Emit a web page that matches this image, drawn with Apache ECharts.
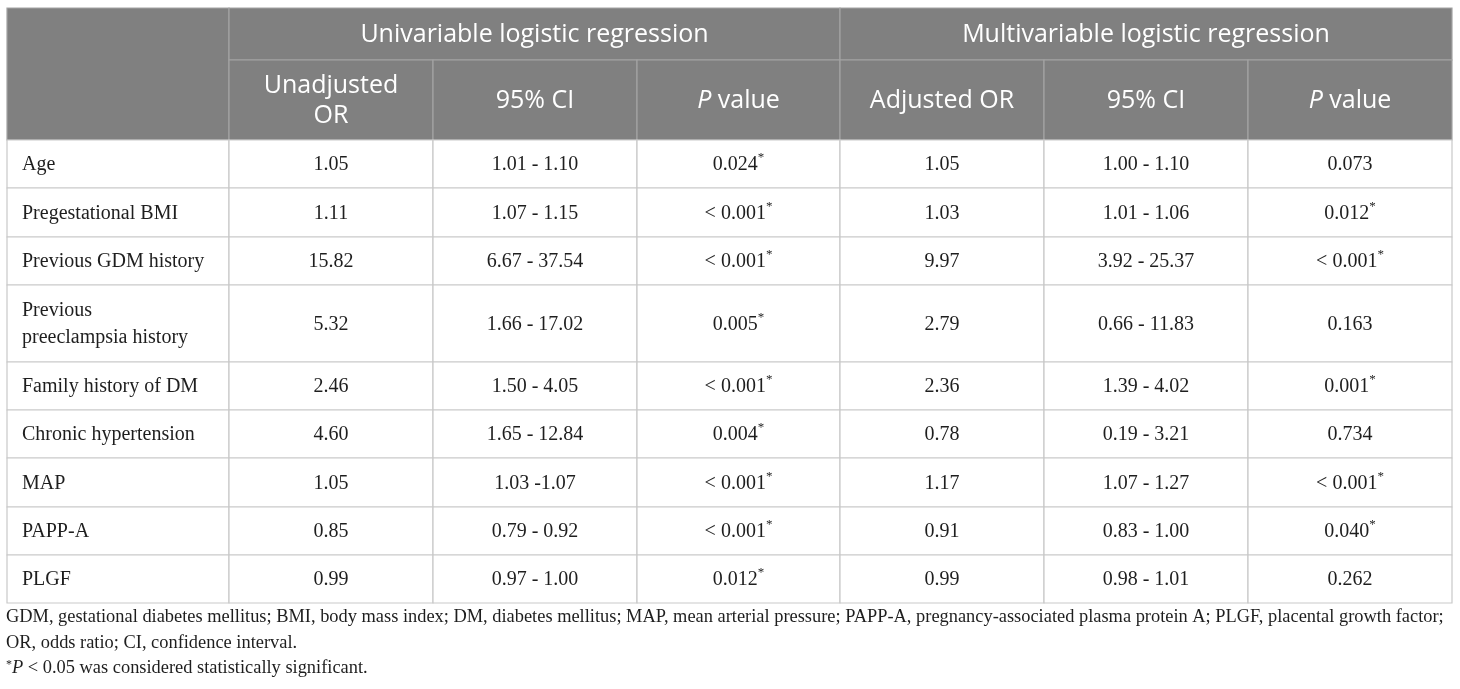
<!DOCTYPE html>
<html>
<head>
<meta charset="utf-8">
<script src="https://cdn.jsdelivr.net/npm/echarts@6/dist/echarts.min.js"></script>
<style>
  html, body { margin: 0; padding: 0; background: #fff; }
  #chart { width: 1460px; height: 689px; }
</style>
</head>
<body>
<div id="chart"></div>
<script>
// table content
const groupHeaders = ['Univariable logistic regression', 'Multivariable logistic regression'];
const columnHeaders = ['Unadjusted\nOR', '95% CI', '{i|P} value', 'Adjusted OR', '95% CI', '{i|P} value'];
const variables = [
  'Age', 'Pregestational BMI', 'Previous GDM history', 'Previous\npreeclampsia history',
  'Family history of DM', 'Chronic hypertension', 'MAP', 'PAPP-A', 'PLGF'
];
const unadjustedOR = ['1.05', '1.11', '15.82', '5.32', '2.46', '4.60', '1.05', '0.85', '0.99'];
const unadjustedCI = ['1.01 - 1.10', '1.07 - 1.15', '6.67 - 37.54', '1.66 - 17.02', '1.50 - 4.05',
  '1.65 - 12.84', '1.03 -1.07', '0.79 - 0.92', '0.97 - 1.00'];
const unadjustedP = ['0.024*', '< 0.001*', '< 0.001*', '0.005*', '< 0.001*', '0.004*', '< 0.001*',
  '< 0.001*', '0.012*'];
const adjustedOR = ['1.05', '1.03', '9.97', '2.79', '2.36', '0.78', '1.17', '0.91', '0.99'];
const adjustedCI = ['1.00 - 1.10', '1.01 - 1.06', '3.92 - 25.37', '0.66 - 11.83', '1.39 - 4.02',
  '0.19 - 3.21', '1.07 - 1.27', '0.83 - 1.00', '0.98 - 1.01'];
const adjustedP = ['0.073', '0.012*', '< 0.001*', '0.163', '0.001*', '0.734', '< 0.001*',
  '0.040*', '0.262'];
const footnotes = [
  'GDM, gestational diabetes mellitus; BMI, body mass index; DM, diabetes mellitus; MAP, mean arterial pressure; PAPP-A, pregnancy-associated plasma protein A; PLGF, placental growth factor;',
  'OR, odds ratio; CI, confidence interval.',
  '{s|*}{i|P} < 0.05 was considered statistically significant.'
];

// layout (pixel grid of the page)
const colEdges = [7, 229, 433, 637, 840, 1044, 1248, 1452];
const rowEdges = [8, 60, 140, 188, 237, 285, 362, 410, 458, 507, 555, 603];
const footnoteY = [617, 643, 668];
const footnoteX = 6;

const HEAD_FONT = '"Open Sans", "DejaVu Sans", sans-serif';
const BODY_FONT = '"Liberation Serif", "DejaVu Serif", serif';
const HEAD_SIZE = 25;
const BODY_SIZE = 20;
const NOTE_SIZE = 18.4;

// star -> superscript token
function mark(s) {
  return s.replace('*', '{s|*}');
}

const cells = [];
cells.push({ c: [0, 1], r: [0, 2], text: '', kind: 'head' });
groupHeaders.forEach((t, i) => cells.push({ c: [1 + i * 3, 4 + i * 3], r: [0, 1], text: t, kind: 'group' }));
columnHeaders.forEach((t, i) => cells.push({ c: [1 + i, 2 + i], r: [1, 2], text: t, kind: 'head' }));
const bodyCols = [unadjustedOR, unadjustedCI, unadjustedP, adjustedOR, adjustedCI, adjustedP];
variables.forEach((v, i) => {
  cells.push({ c: [0, 1], r: [2 + i, 3 + i], text: v, kind: 'label' });
  bodyCols.forEach((col, j) => {
    cells.push({ c: [1 + j, 2 + j], r: [2 + i, 3 + i], text: mark(col[i]), kind: 'body' });
  });
});

const cellData = cells.map(d => [colEdges[d.c[0]], colEdges[d.c[1]], rowEdges[d.r[0]], rowEdges[d.r[1]]]);
const noteData = footnotes.map((t, i) => [footnoteX, footnoteY[i]]);

const chart = echarts.init(document.getElementById('chart'), null, { renderer: 'canvas' });

function renderCell(params, api) {
  const d = cells[params.dataIndex];
  const p0 = api.coord([api.value(0), api.value(2)]);
  const p1 = api.coord([api.value(1), api.value(3)]);
  const isHead = d.kind === 'head' || d.kind === 'group';
  const w = p1[0] - p0[0];
  const h = p1[1] - p0[1];
  const fontSize = isHead ? HEAD_SIZE : BODY_SIZE;
  const color = isHead ? '#ffffff' : '#1e1e1e';
  const family = isHead ? HEAD_FONT : BODY_FONT;
  const lh = isHead ? 30 : 27;
  const left = d.kind === 'label';
  return {
    type: 'group',
    children: [{
      type: 'rect',
      shape: { x: p0[0], y: p0[1], width: w, height: h },
      style: { fill: isHead ? '#808080' : '#ffffff', stroke: isHead ? '#a3a3a3' : '#c9c9c9', lineWidth: 1.2 }
    }, {
      type: 'text',
      x: left ? p0[0] + 15 : p0[0] + w / 2,
      y: p0[1] + h / 2 + 1,
      style: {
        text: d.text,
        fill: color,
        font: fontSize + 'px ' + family,
        align: left ? 'left' : 'center',
        verticalAlign: 'middle',
        lineHeight: lh,
        rich: {
          i: { fontStyle: 'italic', fontSize: fontSize, fontFamily: family, color: color, lineHeight: lh },
          s: { fontSize: 13, fontFamily: family, color: color, verticalAlign: 'top', lineHeight: lh, padding: [0, 0, 7, 0] }
        }
      }
    }]
  };
}

function renderNote(params, api) {
  const p = api.coord([api.value(0), api.value(1)]);
  return {
    type: 'text',
    x: p[0],
    y: p[1],
    style: {
      text: footnotes[params.dataIndex],
      fill: '#1e1e1e',
      font: NOTE_SIZE + 'px ' + BODY_FONT,
      align: 'left',
      verticalAlign: 'middle',
      rich: {
        i: { fontStyle: 'italic', fontSize: NOTE_SIZE, fontFamily: BODY_FONT, color: '#1e1e1e' },
        s: { fontSize: 12, fontFamily: BODY_FONT, color: '#1e1e1e', verticalAlign: 'top', padding: [0, 0, 6, 0] }
      }
    }
  };
}

chart.setOption({
  animation: false,
  grid: { left: 0, right: 0, top: 0, bottom: 0 },
  xAxis: { type: 'value', min: 0, max: 1460, show: false },
  yAxis: { type: 'value', min: 0, max: 689, inverse: true, show: false },
  series: [{
    type: 'custom',
    renderItem: renderCell,
    data: cellData,
    encode: { x: [0, 1], y: [2, 3] },
    silent: true
  }, {
    type: 'custom',
    renderItem: renderNote,
    data: noteData,
    encode: { x: 0, y: 1 },
    silent: true
  }]
});
</script>
</body>
</html>
